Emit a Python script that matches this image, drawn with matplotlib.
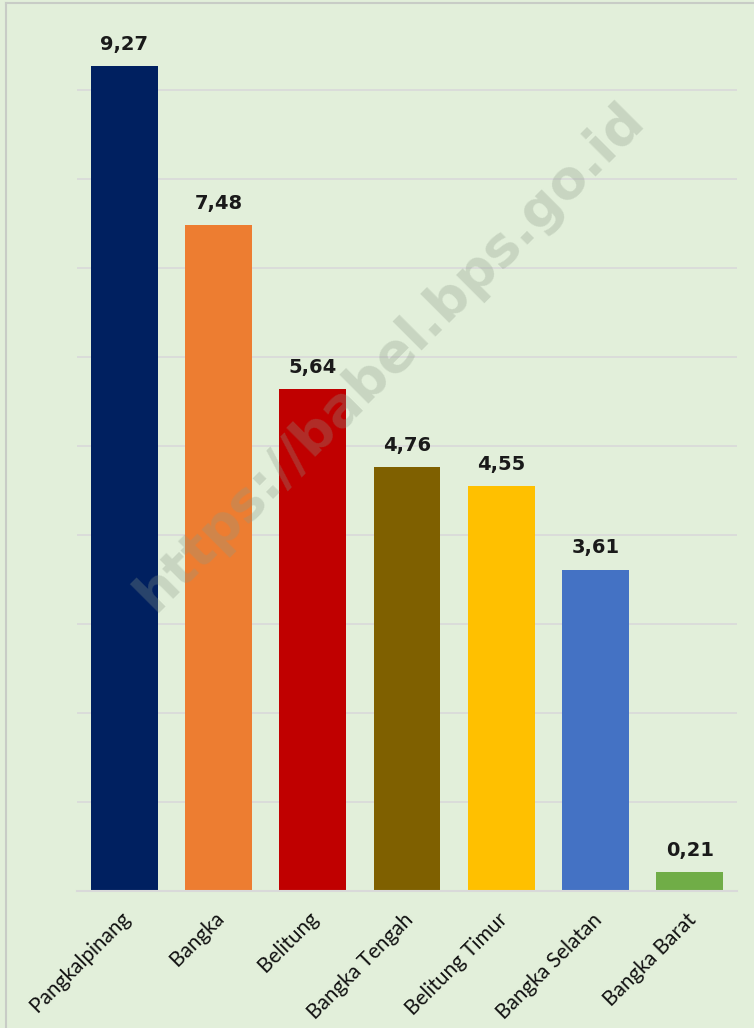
import matplotlib.pyplot as plt
from matplotlib.lines import Line2D

# data
regions = ['Pangkalpinang', 'Bangka', 'Belitung', 'Bangka Tengah',
           'Belitung Timur', 'Bangka Selatan', 'Bangka Barat']
values = [9.27, 7.48, 5.64, 4.76, 4.55, 3.61, 0.21]
colors = ['#002060', '#ED7D31', '#C00000', '#7F6000',
          '#FFC000', '#4472C4', '#70AD47']

bg = '#E2EFDA'
plt.rcParams['font.family'] = ['Lato', 'DejaVu Sans']

fig = plt.figure(figsize=(7.54, 10.28), dpi=100, facecolor=bg)
ax = fig.add_axes([77/754, 137/1028, 660/754, 890/1028])
ax.set_facecolor(bg)

x = range(len(regions))
ax.bar(x, values, width=0.71, color=colors, zorder=2)

for i, v in enumerate(values):
    ax.text(i, v + 0.14, f'{v:.2f}'.replace('.', ','), ha='center', va='bottom',
            fontsize=14, fontweight='bold', color='#1a1a1a', zorder=4,
            family='DejaVu Sans')

ax.set_xlim(-0.5, len(regions) - 0.5)
ax.set_ylim(0, 10)
ax.set_yticks(range(1, 10))
ax.yaxis.grid(True, color='#D9D9D9', linewidth=1.2, zorder=1)
ax.tick_params(axis='y', left=False, labelleft=False)
ax.tick_params(axis='x', bottom=False, pad=7)
ax.set_xticks(list(x))
ax.set_xticklabels([r + ' ' for r in regions], rotation=45, ha='right',
                   rotation_mode='anchor', fontsize=15, color='#111111')
for s in ['top', 'right', 'left']:
    ax.spines[s].set_visible(False)
ax.spines['bottom'].set_color('#D9D9D9')
ax.spines['bottom'].set_linewidth(1.5)

# watermark
fig.text(390/754, 1 - 357/1028, 'https://babel.bps.go.id', rotation=45,
         ha='center', va='center', fontsize=39, fontweight='bold',
         color='#8c9a88', alpha=0.3, zorder=10, family='DejaVu Sans')

# outer border
fig.add_artist(Line2D([6/754, 6/754], [0, 1 - 3/1028], color='#C8CCC6',
                      linewidth=1.5, transform=fig.transFigure))
fig.add_artist(Line2D([6/754, 1], [1 - 3/1028, 1 - 3/1028], color='#C8CCC6',
                      linewidth=1.5, transform=fig.transFigure))

fig.savefig('out.png', dpi=100, facecolor=bg)
